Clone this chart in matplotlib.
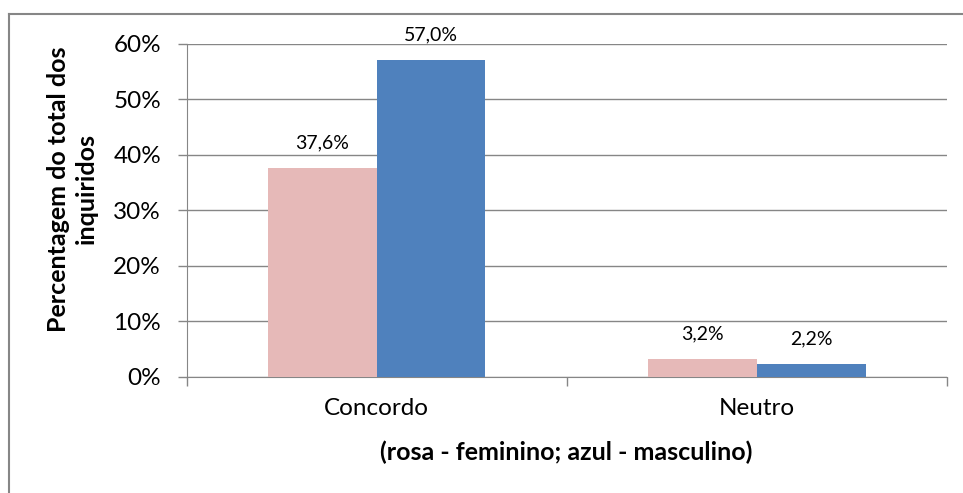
import matplotlib.pyplot as plt
import numpy as np
from matplotlib.lines import Line2D

# data
categories = ['Concordo', 'Neutro']
feminino = [37.6, 3.2]
masculino = [57.0, 2.2]
yticks = [0, 10, 20, 30, 40, 50, 60]

plt.rcParams['font.family'] = ['Lato', 'DejaVu Sans']

fig = plt.figure(figsize=(9.63, 4.93), dpi=100)
ax = fig.add_axes([186.7 / 963, 116.3 / 493, 760.3 / 963, 333.2 / 493])

x = np.arange(len(categories))
w = 0.286
grey = '#868686'

b1 = ax.bar(x - w / 2, feminino, w, color='#E6B9B8', zorder=3)
b2 = ax.bar(x + w / 2, masculino, w, color='#4F81BD', zorder=3)

for bars, vals in [(b1, feminino), (b2, masculino)]:
    for r, v in zip(bars, vals):
        ax.annotate(f"{v:.1f}%".replace('.', ','),
                    (r.get_x() + r.get_width() / 2, v),
                    xytext=(0, 12), textcoords='offset points',
                    ha='center', va='bottom', fontsize=14)

ax.set_xlim(-0.5, 1.5)
ax.set_ylim(0, 60)
ax.set_yticks(yticks)
ax.set_yticklabels([f"{t}%" for t in yticks], fontsize=17.5)
ax.yaxis.grid(True, color=grey, linewidth=1, zorder=0)

# category ticks between categories
ax.set_xticks([-0.5, 0.5, 1.5])
ax.set_xticklabels([])
ax.set_xticks(x, minor=True)
ax.set_xticklabels(categories, minor=True, fontsize=17.5)
ax.tick_params(axis='x', which='minor', length=0, pad=15)
ax.tick_params(axis='x', which='major', length=6.5, color=grey, width=1)
ax.tick_params(axis='y', length=6.5, color=grey, width=1, pad=12)

for s in ['top', 'right']:
    ax.spines[s].set_visible(False)
for s in ['left', 'bottom']:
    ax.spines[s].set_color(grey)

fig.text(72 / 963, 1 - 189 / 493, 'Percentagem do total dos\ninquiridos',
         rotation=90, ha='center', va='center', fontsize=18,
         fontweight='bold', linespacing=1.25, multialignment='center')
fig.text(566 / 963, 1 - 452 / 493, '(rosa - feminino; azul - masculino)',
         ha='center', va='center', fontsize=18, fontweight='bold')

# outer chart border (only top and left visible)
fig.add_artist(Line2D([9 / 963, 1.0], [1 - 14 / 493, 1 - 14 / 493],
                      color=grey, linewidth=1.5, transform=fig.transFigure))
fig.add_artist(Line2D([9 / 963, 9 / 963], [0, 1 - 14 / 493],
                      color=grey, linewidth=1.5, transform=fig.transFigure))

fig.savefig('out.png', dpi=100)
